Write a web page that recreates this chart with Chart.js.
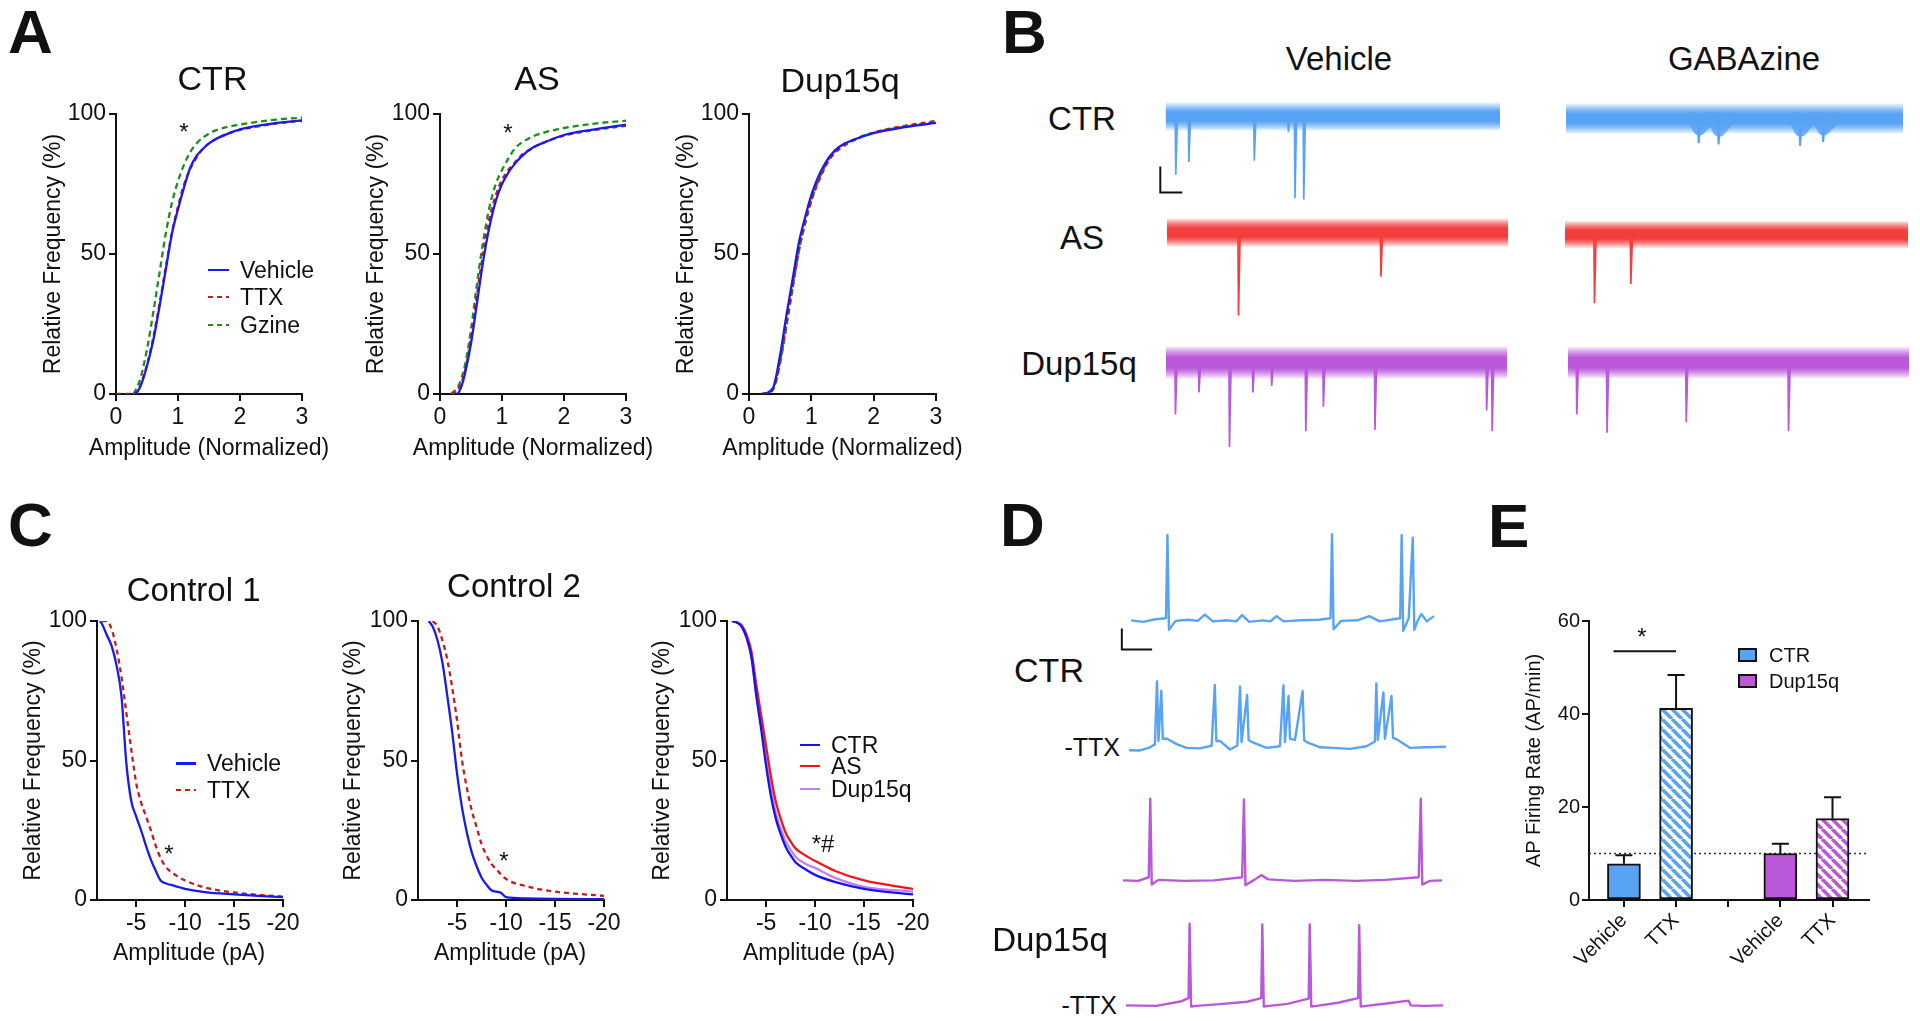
<!DOCTYPE html>
<html>
<head>
<meta charset="utf-8">
<title>Figure</title>
<script src="https://cdn.jsdelivr.net/npm/chart.js@4.4.1/dist/chart.umd.min.js"></script>
<style>
  html, body { margin: 0; padding: 0; background: #fff; }
  body { position: relative; width: 1920px; height: 1021px; overflow: hidden;
         font-family: "Liberation Sans", Arial, Helvetica, sans-serif; color: #111; }
  canvas { position: absolute; }
  .txt { position: absolute; line-height: 1; white-space: nowrap; }
  .key { position: absolute; }
  .box { position: absolute; box-sizing: border-box; border: 2px solid #111; }
</style>
</head>
<body>
<script>
/* ==========================================================================
   Data
   ========================================================================== */

// Panel A - cumulative distribution of normalized amplitude (%)
const ampTicks = [0, 1, 2, 3];
const freqTicks = [0, 50, 100];

const aCtrVehX = [0.3, 0.35, 0.4, 0.5, 0.6, 0.7, 0.8, 0.9, 1.0, 1.1, 1.2, 1.3, 1.4, 1.5, 1.7, 2.0, 2.5, 3.0];
const aCtrVehY = [0, 1, 3, 10, 19, 31, 44, 57, 66, 74, 81, 85, 87.5, 89.5, 92, 94.5, 96.5, 97.7];
const aCtrTtxX = [0, 0.3, 0.35, 0.4, 0.5, 0.6, 0.7, 0.8, 0.9, 1.0, 1.1, 1.2, 1.3, 1.4, 1.5, 1.7, 2.0, 2.5, 3.0];
const aCtrTtxY = [0, 0, 1, 3.5, 10.5, 20, 32, 45, 57.5, 67, 75, 80.5, 84.5, 87.5, 89.5, 92, 94.3, 96.3, 97.6];
const aCtrGzX = [0.28, 0.33, 0.4, 0.5, 0.6, 0.7, 0.8, 0.9, 1.0, 1.1, 1.2, 1.3, 1.5, 1.7, 2.0, 2.5, 3.0];
const aCtrGzY = [0, 2, 6, 16, 29, 43, 57, 68, 76, 82, 86.5, 89.5, 93, 94.8, 96.2, 97.8, 98.7];

const aAsVehX = [0.27, 0.3, 0.35, 0.4, 0.5, 0.6, 0.7, 0.8, 0.9, 1.0, 1.1, 1.2, 1.3, 1.5, 1.7, 2.0, 2.5, 3.0];
const aAsVehY = [0, 0.5, 3, 7, 18, 33, 48, 60, 69, 75, 79, 82, 84.5, 88, 90, 92.5, 94.5, 96.2];
const aAsX = [0.18, 0.3, 0.4, 0.5, 0.6, 0.7, 0.8, 0.9, 1.0, 1.1, 1.2, 1.3, 1.5, 1.7, 2.0, 2.5, 3.0];
const aAsTtxY = [0, 2, 8, 20, 36, 51, 63, 71, 76.5, 80, 82.5, 85, 88, 90, 92.3, 94.3, 95.8];
const aAsGzY = [0, 3, 10, 23, 40, 55, 67, 75, 80, 84, 87.5, 89.5, 92, 93.5, 95, 96.6, 97.6];

const aDupX = [0.2, 0.3, 0.4, 0.5, 0.6, 0.7, 0.8, 0.9, 1.0, 1.1, 1.2, 1.3, 1.45, 1.7, 2.0, 2.5, 3.0];
const aDupVehY = [0, 0.5, 3, 14, 28, 41, 54, 63, 71, 77, 81.5, 85, 88.3, 91, 93.2, 95.3, 96.8];
const aDupTtxY = [0, 0.5, 2.5, 12, 25, 38, 51, 61, 69, 75, 80, 84, 87.5, 90.8, 93.4, 95.8, 97.5];
const aDupGzY = [0, 0.3, 2, 11, 24, 38, 51, 61, 69, 75.5, 80.5, 84.5, 88, 91, 93.3, 95.5, 97.0];

// Panel C - cumulative distribution of amplitude (pA)
const cTicks = [-5, -10, -15, -20];

const c1VehX = [-1.3, -1.5, -2, -2.5, -3, -3.5, -4, -4.5, -5, -5.5, -6, -6.5, -7, -7.5, -8, -9, -10, -12, -15, -20];
const c1VehY = [100, 99, 95, 91, 84, 73, 49, 35.5, 30, 25, 19.5, 14.5, 10.5, 7, 6, 5, 4, 2.8, 2, 1];
const c1TtxX = [-1.5, -2, -2.5, -3, -3.5, -4, -4.5, -5, -5.5, -6, -6.5, -7, -7.5, -8, -9, -10, -12, -15, -20];
const c1TtxY = [100, 100, 97, 90, 80, 67, 54, 42, 35, 30, 25, 19.5, 15, 12, 9, 7, 4.5, 2.7, 1.2];

const c2VehX = [-2.1, -2.5, -3, -3.5, -4, -4.5, -5, -5.5, -6, -6.5, -7, -7.5, -8, -8.5, -9, -9.5, -10, -12, -15, -20];
const c2VehY = [100, 98, 93, 85, 73, 60, 45, 33, 24, 17, 12, 8, 5.5, 3.5, 3, 2.5, 1, 0.6, 0.4, 0.3];
const c2TtxX = [-2.5, -3, -3.5, -4, -4.5, -5, -5.5, -6, -6.5, -7, -7.5, -8, -8.5, -9, -10, -12, -15, -20];
const c2TtxY = [100, 98, 93, 86, 76, 64, 50, 40, 32, 26, 20, 16, 13, 11, 7.5, 5, 3, 1.5];

const c3X = [-1.5, -2, -2.5, -3, -3.5, -4, -4.5, -5, -5.5, -6, -6.5, -7, -7.5, -8, -9, -10, -12, -15, -20];
const c3CtrY = [100, 99.5, 98, 94, 87, 73, 61, 48, 37, 29, 23.5, 19, 16, 13.5, 11, 9, 6.5, 4, 2];
const c3AsY = [100, 99.5, 98.5, 95, 89, 77, 66, 55, 44, 35, 29, 24, 21, 18.5, 16, 14, 10.5, 7, 4];
const c3DupY = [100, 99.5, 98, 94, 87, 74, 63, 50, 39.5, 31, 25.5, 21, 18, 15.5, 13, 11.5, 8, 4.7, 3];

// Panel B - spontaneous currents: event times (s) and peak amplitudes (pA)
const bCtrVehT = [0.86, 2.05, 8.0, 11.1, 11.7, 12.5];
const bCtrVehAmp = [-45, -35, -34, -12, -63, -64];
const bCtrGbzT = [12.0, 13.8, 21.2, 23.3];
const bCtrGbzAmp = [-19, -20, -21, -18];
const bCtrGbzDip = [-8, -9, -9, -8];      // slow deflection of the baseline
const bAsVehT = [6.45, 19.4];
const bAsVehAmp = [-64, -34];
const bAsGbzT = [2.63, 5.94];
const bAsGbzAmp = [-53, -38];
const bDupVehT = [0.81, 2.95, 5.72, 7.85, 9.56, 12.66, 14.26, 18.95, 29.1, 29.6];
const bDupVehAmp = [-40, -23, -65, -23, -18, -53, -34, -52, -37, -53];
const bDupGbzT = [0.75, 3.5, 10.7, 20.0];
const bDupGbzAmp = [-40, -54, -46, -53];

// Panel D - membrane potential: baseline samples (s, mV) and action potentials
const dCtrVehBaseT = [0, 1.2, 2.4, 3.45, 4.4, 5.6, 6.6, 7.3, 8.1, 9.6, 10.4, 11, 11.7, 13, 13.8, 14.4, 15.1, 16.8, 18.6, 19.75, 20.8, 22.4, 23.6, 24.6, 26.65, 27.5, 28.4, 28.75, 29.3, 30];
const dCtrVehBaseV = [-60, -61.5, -59, -58, -60.5, -59.5, -60.5, -54.5, -61, -60, -61, -55, -61.5, -60, -61, -56, -61, -60, -59.5, -58, -60.5, -60, -56, -61, -58, -58, -60, -54, -61, -56];
const dCtrVehSpikeT = [3.6, 19.9, 26.8, 27.9];
const dCtrVehPeak = [21.5, 22.2, 21.5, 18.9];
const dCtrVehTrough = [-69, -68.5, -70, -69];

const dCtrTtxBaseT = [0, 1.09, 2.08, 2.57, 3.73, 4.72, 5.71, 7.03, 8.19, 9.01, 10.0, 10.73, 12.31, 13.63, 14.95, 16.44, 17.6, 18.92, 20.24, 21.89, 23.53, 24.36, 26.5, 27.82, 29.47, 31.39];
const dCtrTtxBaseV = [-60.8, -61, -58, -55.2, -49.6, -55, -58.5, -59, -56.5, -51.9, -60.1, -56.5, -53.6, -58.5, -57, -51, -53, -58, -58.5, -59.5, -57, -52.5, -50.3, -58.5, -58, -57.5];
const dCtrTtxSpikeT = [2.77, 3.2, 8.5, 11.0, 11.7, 15.3, 15.8, 17.2, 24.5, 25.2, 26.0];
const dCtrTtxPeak = [4.8, -4.3, 1.3, 0, -8.2, 1, -9.2, -4.3, 2.9, -5.7, -9.2];
const dCtrTtxTrough = [-52, -50, -52, -53, -51, -53, -50, -51, -51, -50, -49];

const dDupVehBaseT = [0, 1.5, 2.55, 3.5, 6, 9, 11.8, 13, 13.7, 14.4, 17, 20, 23, 26, 29.3, 30.4, 31.6];
const dDupVehBaseV = [-60, -60.5, -57, -59.5, -60.5, -60, -57, -59.5, -55, -59, -60.5, -59.5, -60.5, -59.5, -57, -60.5, -60];
const dDupVehSpikeT = [2.7, 11.98, 29.5];
const dDupVehPeak = [17.9, 17, 17.9];
const dDupVehTrough = [-64, -64.5, -64];

const dDupTtxBaseT = [0, 3, 5.5, 6.2, 7.0, 9, 12, 13.4, 14.2, 16, 18.1, 18.9, 21, 23.0, 23.8, 26, 28.0, 28.2, 29.5, 31.4];
const dDupTtxBaseV = [-60, -60.5, -56, -53, -60.5, -59, -56.5, -53, -60.5, -58.5, -53.5, -60.5, -57.5, -53, -60.5, -58, -55.5, -60, -60.5, -60];
const dDupTtxSpikeT = [6.3, 13.5, 18.2, 23.1];
const dDupTtxPeak = [17.9, 17.0, 17.0, 16.3];
const dDupTtxTrough = [-61, -61, -61, -61];

// Panel E - AP firing rate (AP/min), mean and SEM
const eLabels = ['Vehicle', 'TTX', '', 'Vehicle', 'TTX'];
const eSlots = [0, 1, 2, 3, 4];
const rateTicks = [0, 20, 40, 60];
const ctrSlots = [0, 1];
const ctrRate = [7.8, 41.2];
const ctrRateSem = [1.8, 7.2];
const dupSlots = [3, 4];
const dupRate = [10.0, 17.5];
const dupRateSem = [2.1, 4.6];
const refRate = 10;      // dotted reference level
const sigLevel = 53.5;   // significance bar over CTR Vehicle vs TTX

/* ==========================================================================
   Colours and helpers
   ========================================================================== */
const C_VEH = '#1a1aef', C_TTX = '#c41c1c', C_GZ = '#1f8c1f';
const C3_CTR = '#1414ee', C3_AS = '#ee1616', C3_DUP = '#c27ff0';
const RGB_CTR = '88,163,243', RGB_AS = '243,62,62', RGB_DUP = '186,88,218';
const C_CTR = `rgb(${RGB_CTR})`, C_AS = `rgb(${RGB_AS})`, C_DUP = `rgb(${RGB_DUP})`;
const INK = '#111';

Chart.defaults.font.family = '"Liberation Sans", Arial, Helvetica, sans-serif';
Chart.defaults.color = INK;
Chart.defaults.animation = false;
Chart.defaults.responsive = false;
Chart.defaults.events = [];
Chart.defaults.plugins.legend.display = false;
Chart.defaults.plugins.tooltip.enabled = false;
Chart.defaults.elements.point.radius = 0;

const xy = (xs, ys) => xs.map((x, i) => ({ x, y: ys[i] }));

function addCanvas(left, top, w, h) {
  const c = document.createElement('canvas');
  c.width = Math.round(w); c.height = Math.round(h);
  c.style.left = Math.round(left) + 'px'; c.style.top = Math.round(top) + 'px';
  c.style.width = c.width + 'px'; c.style.height = c.height + 'px';
  document.body.appendChild(c);
  return c;
}

// y is the vertical middle of capital letters
function label(str, x, y, size, align, bold) {
  const d = document.createElement('div');
  d.className = 'txt';
  d.textContent = str;
  d.style.fontSize = size + 'px';
  if (bold) d.style.fontWeight = 'bold';
  d.style.left = x + 'px';
  d.style.top = (y - 0.49 * size) + 'px';
  if (align === 'center') d.style.transform = 'translateX(-50%)';
  if (align === 'right') d.style.transform = 'translateX(-100%)';
  document.body.appendChild(d);
}
const star = (str, x, y) => label(str, x, y + 5, 24, 'center');

function keyLine(x0, x1, y, color, dashed) {
  const d = document.createElement('div');
  d.className = 'key';
  d.style.left = x0 + 'px'; d.style.width = (x1 - x0) + 'px';
  d.style.top = (y - 1.25) + 'px'; d.style.height = '2.5px';
  d.style.background = dashed ? `repeating-linear-gradient(90deg, ${color} 0 5px, transparent 5px 9px)` : color;
  document.body.appendChild(d);
}

function keyBox(x, y, w, h, color) {
  const d = document.createElement('div');
  d.className = 'box';
  Object.assign(d.style, { left: x + 'px', top: y + 'px', width: w + 'px', height: h + 'px', background: color });
  document.body.appendChild(d);
}

function axisOpts(o) {
  const a = {
    type: 'linear', min: o.min, max: o.max, reverse: !!o.reverse, offset: false,
    afterBuildTicks: s => { s.ticks = o.ticks.map(v => ({ value: v })); },
    afterFit: s => { if (o.w !== undefined) s.width = o.w; if (o.h !== undefined) s.height = o.h; },
    ticks: { font: { size: o.fs || 23 }, color: INK, padding: o.pad === undefined ? 3 : o.pad,
             autoSkip: false, minRotation: o.rot || 0, maxRotation: o.rot || 0 },
    title: { display: !!o.title, text: o.title || '', font: { size: o.tfs || 23 }, color: INK, padding: 0 },
    grid: { drawOnChartArea: false, drawTicks: true, tickLength: 7, color: INK, lineWidth: 2, offset: false },
    border: { display: true, color: INK, width: 2 }
  };
  if (o.cb) a.ticks.callback = o.cb;
  return a;
}

function curve(xs, ys, color, dash) {
  return { data: xy(xs, ys), showLine: true, borderColor: color, borderWidth: 2.3,
           borderDash: dash || [], pointRadius: 0, cubicInterpolationMode: 'monotone', fill: false };
}

// area = chart-area box on the page; the y-title position fixes the left margin
function cumChart(area, yTitleX, xTitle, xTitleY, xAxis, datasets) {
  const half = 23 * 1.2 / 2;
  const m = { l: Math.round(area.x0 - yTitleX + half), t: 22, r: 28, b: Math.round(xTitleY + half - area.y1) };
  const c = addCanvas(area.x0 - m.l, area.y0 - m.t, area.x1 - area.x0 + m.l + m.r, area.y1 - area.y0 + m.t + m.b);
  new Chart(c, {
    type: 'scatter',
    data: { datasets },
    options: {
      layout: { padding: { top: m.t, right: m.r, left: 0, bottom: 0 } },
      scales: {
        x: axisOpts(Object.assign({ h: m.b }, xAxis)),
        y: axisOpts({ min: 0, max: 100, ticks: freqTicks, w: m.l, title: 'Relative Frequency (%)' })
      }
    }
  });
  // x title is wider than the plot, so it is set as page text (canvas would squeeze it)
  label(xTitle, (area.x0 + area.x1) / 2 + xAxis.titleShift, xTitleY, 23, 'center');
}

// trace without axes: x0/y0 = page position of t=0 / baseline value
function traceChart(o) {
  const left = o.x0 + o.xr[0] * o.pps, right = o.x0 + o.xr[1] * o.pps;
  const top = o.y0 - (o.yr[1] - o.base) * o.ppu, bottom = o.y0 + (o.base - o.yr[0]) * o.ppu;
  const c = addCanvas(left, top, right - left, bottom - top);
  new Chart(c, {
    type: 'scatter',
    data: { datasets: o.datasets },
    options: {
      layout: { padding: 0 },
      scales: {
        x: { type: 'linear', display: false, min: o.xr[0], max: o.xr[1] },
        y: { type: 'linear', display: false, min: o.yr[0], max: o.yr[1] }
      }
    }
  });
}

function lineSet(pts, color, width, extra) {
  return Object.assign({ data: pts, showLine: true, borderColor: color, borderWidth: width,
                         pointRadius: 0, spanGaps: false, borderCapStyle: 'butt' }, extra || {});
}

// noise band: solid core fading towards the ragged edges
function bandColor(rgb, h) {
  return c => {
    const ch = c.chart;
    if (!ch.chartArea) return `rgb(${rgb})`;
    const y = ch.scales.y.getPixelForValue(0);
    const g = ch.ctx.createLinearGradient(0, y - h / 2, 0, y + h / 2);
    g.addColorStop(0, `rgba(${rgb},0.12)`);
    g.addColorStop(0.2, `rgba(${rgb},0.7)`);
    g.addColorStop(0.34, `rgba(${rgb},1)`);
    g.addColorStop(0.66, `rgba(${rgb},1)`);
    g.addColorStop(0.8, `rgba(${rgb},0.7)`);
    g.addColorStop(1, `rgba(${rgb},0.12)`);
    return g;
  };
}

function bTrace(o) {
  const spikes = [];
  o.t.forEach((t, i) => spikes.push({ x: t, y: 0 }, { x: t + 0.05, y: o.amp[i] }, { x: t + 0.2, y: 0 }, { x: t + 0.2, y: null }));
  const sets = [
    lineSet(spikes, `rgb(${o.rgb})`, o.sw || 1.7),
    lineSet([{ x: 0, y: 0 }, { x: o.len, y: 0 }], bandColor(o.rgb, o.band), o.band)
  ];
  if (o.dip) {
    const dips = [];
    o.t.forEach((t, i) => dips.push({ x: t - 0.4, y: 0 }, { x: t + 0.1, y: o.dip[i] }, { x: t + 1.0, y: 0 }, { x: t + 1.0, y: null }));
    sets.splice(1, 0, lineSet(dips, `rgba(${o.rgb},0.85)`, 13, { borderJoinStyle: 'round', borderCapStyle: 'round' }));
  }
  if (o.bar) {
    const b = o.bar;
    sets.push(lineSet([{ x: b.t, y: b.top }, { x: b.t, y: b.top - b.pA }, { x: b.t + b.s, y: b.top - b.pA }], INK, 2));
  }
  traceChart({ x0: o.x0, y0: o.y0, base: 0, pps: 11, ppu: 1.3, xr: [o.from || 0, o.len], yr: [-72, 22], datasets: sets });
}

function dTrace(o) {
  const pts = xy(o.baseT, o.baseV);
  o.spikeT.forEach((t, i) => pts.push({ x: t, y: o.peak[i] }, { x: t + 0.15, y: o.trough[i] }));
  pts.sort((a, b) => a.x - b.x);
  const sets = [lineSet(pts, o.color, 2.4, { borderJoinStyle: 'round' })];
  if (o.bar) {
    const b = o.bar;
    sets.push(lineSet([{ x: b.t, y: b.top }, { x: b.t, y: b.top - b.mV }, { x: b.t + b.s, y: b.top - b.mV }], INK, 2));
  }
  traceChart({ x0: o.x0, y0: o.y0, base: -60, pps: 10.1, ppu: 1.05,
               xr: [o.from || 0, o.len], yr: o.yr || [-72, 28], datasets: sets });
}

function hatch(color) {
  const p = document.createElement('canvas');
  p.width = p.height = 10;
  const g = p.getContext('2d');
  g.fillStyle = '#fff'; g.fillRect(0, 0, 10, 10);
  g.strokeStyle = color; g.lineWidth = 3.6;
  g.beginPath();
  [-10, 0, 10].forEach(d => { g.moveTo(d, 0); g.lineTo(d + 10, 10); });
  g.stroke();
  return g.createPattern(p, 'repeat');
}

const errorBars = {
  id: 'errorBars',
  afterDatasetsDraw(chart) {
    const ctx = chart.ctx, ys = chart.scales.y;
    chart.data.datasets.forEach((ds, i) => {
      if (!ds.sem) return;
      chart.getDatasetMeta(i).data.forEach((bar, j) => {
        const yTop = ys.getPixelForValue(ds.data[j].y + ds.sem[j]);
        ctx.save();
        ctx.strokeStyle = INK; ctx.lineWidth = 2;
        ctx.beginPath();
        ctx.moveTo(bar.x, bar.y); ctx.lineTo(bar.x, yTop);
        ctx.moveTo(bar.x - 8.5, yTop); ctx.lineTo(bar.x + 8.5, yTop);
        ctx.stroke();
        ctx.restore();
      });
    });
  }
};

/* ==========================================================================
   Panel A
   ========================================================================== */
const aAxis = { min: 0, max: 3, ticks: ampTicks, titleShift: 0 };
cumChart({ x0: 116, y0: 114, x1: 302, y1: 394 }, 53.5, 'Amplitude (Normalized)', 447, aAxis, [
  curve(aCtrVehX, aCtrVehY, C_VEH), curve(aCtrTtxX, aCtrTtxY, C_TTX, [5, 4]), curve(aCtrGzX, aCtrGzY, C_GZ, [6, 4])
]);
cumChart({ x0: 440, y0: 114, x1: 626, y1: 394 }, 376.7, 'Amplitude (Normalized)', 447, aAxis, [
  curve(aAsVehX, aAsVehY, C_VEH), curve(aAsX, aAsTtxY, C_TTX, [5, 4]), curve(aAsX, aAsGzY, C_GZ, [6, 4])
]);
cumChart({ x0: 749, y0: 114, x1: 936, y1: 394 }, 687, 'Amplitude (Normalized)', 447, aAxis, [
  curve(aDupX, aDupVehY, C_VEH), curve(aDupX, aDupTtxY, C_TTX, [5, 4]), curve(aDupX, aDupGzY, C_GZ, [6, 4])
]);

/* ==========================================================================
   Panel C
   ========================================================================== */
const cAxis = { min: -20, max: -1, reverse: true, ticks: cTicks, titleShift: -1 };
cumChart({ x0: 97, y0: 621, x1: 283, y1: 900 }, 33.7, 'Amplitude (pA)', 952.7, cAxis, [
  curve(c1VehX, c1VehY, C_VEH), curve(c1TtxX, c1TtxY, C_TTX, [5, 4])
]);
cumChart({ x0: 418, y0: 621, x1: 604, y1: 900 }, 353.5, 'Amplitude (pA)', 952.7, cAxis, [
  curve(c2VehX, c2VehY, C_VEH), curve(c2TtxX, c2TtxY, C_TTX, [5, 4])
]);
cumChart({ x0: 727, y0: 621, x1: 913, y1: 900 }, 663.3, 'Amplitude (pA)', 952.7, cAxis, [
  curve(c3X, c3CtrY, C3_CTR), curve(c3X, c3AsY, C3_AS), curve(c3X, c3DupY, C3_DUP)
]);

/* ==========================================================================
   Panel B traces
   ========================================================================== */
bTrace({ t: bCtrVehT, amp: bCtrVehAmp, len: 30.4, from: -0.8, x0: 1165.5, y0: 117, rgb: RGB_CTR, band: 28,
         bar: { t: -0.5, top: -38.5, pA: 20, s: 2 } });
bTrace({ t: bCtrGbzT, amp: bCtrGbzAmp, dip: bCtrGbzDip, len: 30.6, x0: 1566, y0: 119, rgb: RGB_CTR, band: 30, sw: 2.2 });
bTrace({ t: bAsVehT, amp: bAsVehAmp, len: 31.0, x0: 1167.3, y0: 233, rgb: RGB_AS, band: 28 });
bTrace({ t: bAsGbzT, amp: bAsGbzAmp, len: 31.2, x0: 1565, y0: 235, rgb: RGB_AS, band: 27 });
bTrace({ t: bDupVehT, amp: bDupVehAmp, len: 31.0, x0: 1166, y0: 363, rgb: RGB_DUP, band: 32 });
bTrace({ t: bDupGbzT, amp: bDupGbzAmp, len: 31.0, x0: 1568, y0: 363, rgb: RGB_DUP, band: 31 });

/* ==========================================================================
   Panel D traces
   ========================================================================== */
dTrace({ baseT: dCtrVehBaseT, baseV: dCtrVehBaseV, spikeT: dCtrVehSpikeT, peak: dCtrVehPeak, trough: dCtrVehTrough,
         len: 30.2, from: -1.3, x0: 1131, y0: 620.8, color: C_CTR, yr: [-95, 30],
         bar: { t: -0.92, top: -67.8, mV: 20, s: 3 } });
dTrace({ baseT: dCtrTtxBaseT, baseV: dCtrTtxBaseV, spikeT: dCtrTtxSpikeT, peak: dCtrTtxPeak, trough: dCtrTtxTrough,
         len: 31.6, x0: 1129, y0: 749, color: C_CTR });
dTrace({ baseT: dDupVehBaseT, baseV: dDupVehBaseV, spikeT: dDupVehSpikeT, peak: dDupVehPeak, trough: dDupVehTrough,
         len: 31.8, x0: 1122.7, y0: 880, color: C_DUP });
dTrace({ baseT: dDupTtxBaseT, baseV: dDupTtxBaseV, spikeT: dDupTtxSpikeT, peak: dDupTtxPeak, trough: dDupTtxTrough,
         len: 31.6, x0: 1126, y0: 1005.2, color: C_DUP });

/* ==========================================================================
   Panel E bar chart
   ========================================================================== */
const eMin = -0.67, eMax = 4.7;
const em = { l: 67, t: 22, r: 22, b: 90 };
const eArea = { x0: 1589, y0: 621, x1: 1869, y1: 900 };
const ec = addCanvas(eArea.x0 - em.l, eArea.y0 - em.t, eArea.x1 - eArea.x0 + em.l + em.r, eArea.y1 - eArea.y0 + em.t + em.b);
new Chart(ec, {
  type: 'bar',
  data: {
    datasets: [
      { label: 'CTR', data: xy(ctrSlots, ctrRate), sem: ctrRateSem, backgroundColor: [C_CTR, hatch(C_CTR)],
        borderColor: INK, borderWidth: 2, borderSkipped: false, barThickness: 33, grouped: false, order: 0 },
      { label: 'Dup15q', data: xy(dupSlots, dupRate), sem: dupRateSem, backgroundColor: [C_DUP, hatch(C_DUP)],
        borderColor: INK, borderWidth: 2, borderSkipped: false, barThickness: 33, grouped: false, order: 0 },
      { type: 'line', data: [{ x: eMin, y: refRate }, { x: eMax, y: refRate }], borderColor: '#333',
        borderWidth: 1.6, borderDash: [2, 3], pointRadius: 0, order: 2 },
      { type: 'line', data: [{ x: -0.2, y: sigLevel }, { x: 1.0, y: sigLevel }], borderColor: INK,
        borderWidth: 2, pointRadius: 0, order: 2 }
    ]
  },
  options: {
    layout: { padding: { top: em.t, right: em.r, left: 0, bottom: 0 } },
    scales: {
      x: axisOpts({ min: eMin, max: eMax, ticks: eSlots, h: em.b, fs: 20, rot: 45, pad: 2, cb: v => eLabels[v] }),
      y: axisOpts({ min: 0, max: 60, ticks: rateTicks, w: em.l, fs: 20, tfs: 20, pad: 2, title: 'AP Firing Rate (AP/min)' })
    }
  },
  plugins: [errorBars]
});

/* ==========================================================================
   Text, legends, annotations
   ========================================================================== */
label('A', 8, 31.5, 62, 'left', true);
label('B', 1002, 31.5, 62, 'left', true);
label('C', 8, 524, 62, 'left', true);
label('D', 1000, 524, 62, 'left', true);
label('E', 1488, 525.7, 62, 'left', true);

label('CTR', 212.5, 78, 34, 'center');
label('AS', 537, 78, 34, 'center');
label('Dup15q', 840, 80, 34, 'center');
keyLine(208, 229, 270, C_VEH); label('Vehicle', 240, 270, 23);
keyLine(208, 229, 297, C_TTX, true); label('TTX', 240, 297, 23);
keyLine(208, 229, 325, C_GZ, true); label('Gzine', 240, 325, 23);
star('*', 184, 127);
star('*', 508, 128);

label('Vehicle', 1339, 58, 33, 'center');
label('GABAzine', 1744, 58, 33, 'center');
label('CTR', 1082, 118, 33, 'center');
label('AS', 1082, 237, 33, 'center');
label('Dup15q', 1079, 363, 33, 'center');

label('Control 1', 193.6, 588.7, 33, 'center');
label('Control 2', 514, 585, 33, 'center');
keyLine(176, 196, 763.6, C_VEH); label('Vehicle', 207, 763.6, 23);
keyLine(176, 196, 790, C_TTX, true); label('TTX', 207, 790, 23);
keyLine(800, 820, 745, C3_CTR); label('CTR', 831, 745, 23);
keyLine(800, 820, 766, C3_AS); label('AS', 831, 766, 23);
keyLine(800, 820, 789, C3_DUP); label('Dup15q', 831, 789, 23);
star('*', 169, 849);
star('*', 504, 856);
star('*#', 823, 839);

label('CTR', 1049, 669.8, 34, 'center');
label('-TTX', 1120, 747.4, 25, 'right');
label('Dup15q', 1050, 939, 33, 'center');
label('-TTX', 1117, 1005, 25, 'right');

keyBox(1738, 648, 19, 14, C_CTR); label('CTR', 1769, 655, 20);
keyBox(1738, 674, 19, 14, C_DUP); label('Dup15q', 1769, 681, 20);
star('*', 1642, 632);
</script>
</body>
</html>
